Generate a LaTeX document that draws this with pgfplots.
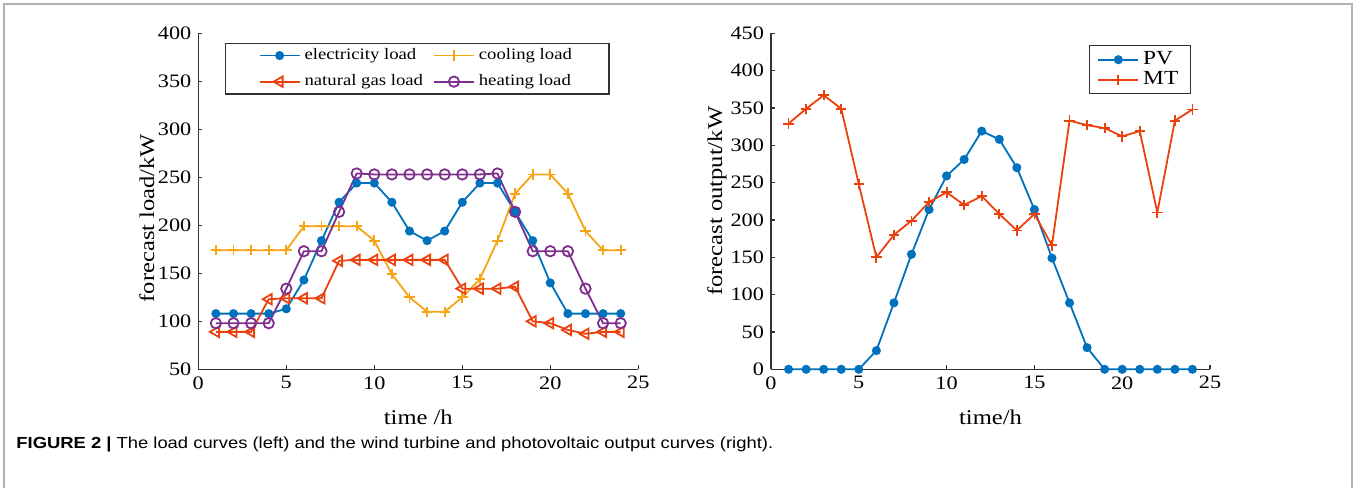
\documentclass[border=0pt]{standalone}
\usepackage{fontspec}
\setmainfont{Liberation Serif}[FakeStretch=1.17]
\newfontfamily\capfont{Liberation Sans}[FakeStretch=1.15]
\usepackage{pgfplots}
\pgfplotsset{compat=1.18}

\definecolor{elec}{RGB}{0,114,189}
\definecolor{cool}{RGB}{245,165,20}
\definecolor{gas}{RGB}{235,65,15}
\definecolor{heat}{RGB}{126,47,142}
\definecolor{axisgray}{RGB}{50,50,50}

\pgfplotsset{
  panel/.style={
    scale only axis, width=220pt, height=168pt,
    axis x line*=bottom, axis y line*=left,
    axis line style={axisgray, line width=0.7pt, -},
    tick align=inside, major tick length=2pt,
    tick style={axisgray, line width=0.6pt},
    xmin=0, xmax=25, xtick={0,5,...,25},
    tick label style={font=\fontsize{9.5}{11}\selectfont},
    /pgf/number format/assume math mode=true,
    label style={font=\fontsize{10.5}{12}\selectfont},
    every axis plot/.append style={line width=0.9pt},
    legend style={draw=axisgray, line width=0.6pt, legend cell align=left},
    legend image code/.code={\draw[mark repeat=2,mark phase=2,##1]
      plot coordinates {(0pt,0pt) (10pt,0pt) (20pt,0pt)};},
    clip=false,
  }
}

\begin{document}
\begin{tikzpicture}
\useasboundingbox (0pt,0pt) rectangle (678pt,244pt);
% outer frame, open at the bottom
\draw[gray!60, line width=0.8pt] (2pt,0pt) -- (2pt,242pt) -- (676pt,242pt) -- (676pt,0pt);

% load curves
\begin{axis}[panel, at={(99.15pt,59.35pt)}, anchor=south west,
  ymin=50, ymax=400, ytick={50,100,...,400},
  xlabel={time /h}, ylabel={forecast load/kW},
  xlabel style={at={(axis description cs:0.5,-0.142)}, anchor=center},
  ylabel style={at={(axis description cs:-0.117,0.45)}, anchor=center},
  legend columns=2,
  legend style={at={(axis description cs:0.061,0.972)}, anchor=north west,
    font=\fontsize{8}{9.5}\selectfont, inner xsep=16.5pt, inner ysep=0.6pt,
    row sep=2pt,
    /tikz/every even column/.append style={column sep=3pt}},
]
\addplot[elec, mark=*, mark size=1.8pt] coordinates {
 (1,108) (2,108) (3,108) (4,108) (5,113) (6,143) (7,184) (8,224)
 (9,244) (10,244) (11,224) (12,194) (13,184) (14,194) (15,224) (16,244)
 (17,244) (18,214) (19,184) (20,140) (21,108) (22,108) (23,108) (24,108)};
\addlegendentry{electricity load}
\addplot[cool, mark=+, mark size=2.6pt] coordinates {
 (1,174) (2,174) (3,174) (4,174) (5,174) (6,199) (7,199) (8,199)
 (9,199) (10,184) (11,149) (12,125) (13,110) (14,110) (15,125) (16,144)
 (17,184) (18,233) (19,253) (20,253) (21,233) (22,194) (23,174) (24,174)};
\addlegendentry{cooling load}
\addplot[gas, mark=triangle, mark size=3pt, mark options={rotate=90, solid}] coordinates {
 (1,89) (2,89) (3,89) (4,123) (5,124) (6,124) (7,124) (8,163)
 (9,164) (10,164) (11,164) (12,164) (13,164) (14,164) (15,134) (16,134)
 (17,134) (18,136) (19,100) (20,98) (21,91) (22,87) (23,89) (24,89)};
\addlegendentry{natural gas load}
\addplot[heat, mark=o, mark size=2.6pt] coordinates {
 (1,98) (2,98) (3,98) (4,98) (5,134) (6,173) (7,173) (8,214)
 (9,254) (10,253) (11,253) (12,253) (13,253) (14,253) (15,253) (16,253)
 (17,254) (18,214) (19,173) (20,173) (21,173) (22,134) (23,98) (24,98)};
\addlegendentry{heating load}
\end{axis}

% PV and MT output
\begin{axis}[panel, at={(385.5pt,59.35pt)}, anchor=south west, width=219.5pt,
  ymin=0, ymax=450, ytick={0,50,...,450},
  xlabel={time/h}, ylabel={forecast output/kW},
  xlabel style={at={(axis description cs:0.5,-0.142)}, anchor=center},
  ylabel style={at={(axis description cs:-0.123,0.5)}, anchor=center},
  legend style={at={(axis description cs:0.724,0.965)}, anchor=north west,
    font=\fontsize{10}{11}\selectfont, inner xsep=4pt, inner ysep=1pt,
    row sep=-2pt},
]
\addplot[elec, mark=*, mark size=1.8pt] coordinates {
 (1,0) (2,0) (3,0) (4,0) (5,0) (6,25) (7,89) (8,154)
 (9,214) (10,259) (11,281) (12,319) (13,308) (14,270) (15,214) (16,149)
 (17,89) (18,29) (19,0) (20,0) (21,0) (22,0) (23,0) (24,0)};
\addlegendentry{PV}
\addplot[gas, mark=+, mark size=2.6pt] coordinates {
 (1,329) (2,349) (3,367) (4,349) (5,248) (6,150) (7,180) (8,199)
 (9,224) (10,237) (11,220) (12,232) (13,208) (14,186) (15,208) (16,166)
 (17,333) (18,327) (19,323) (20,312) (21,319) (22,210) (23,333) (24,348)};
\addlegendentry{MT}
\end{axis}

\node[anchor=west, inner sep=0pt, font=\capfont\fontsize{8}{9.5}\selectfont]
  at (8pt,22pt) {{\bfseries FIGURE 2 |} The load curves (left) and the wind turbine and photovoltaic output curves (right).};
\end{tikzpicture}
\end{document}
